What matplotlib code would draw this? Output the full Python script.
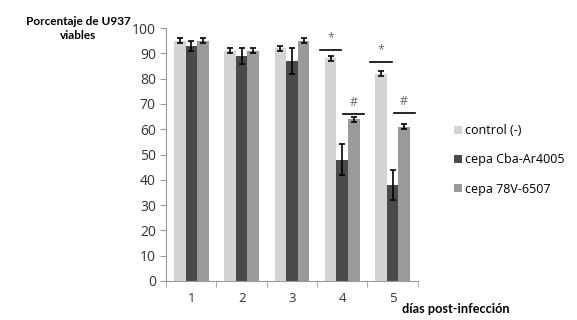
import matplotlib
matplotlib.use("Agg")
import matplotlib.pyplot as plt
import numpy as np

days = ["1", "2", "3", "4", "5"]
series_names = ["control (-)", "cepa Cba-Ar4005", "cepa 78V-6507"]
control = [95, 91, 92, 88, 82]
control_err = [1, 1, 1, 1, 1]
cba = [93, 89, 87, 48, 38]
cba_err = [2, 3, 5, 6, 6]
v78 = [95, 91, 95, 64, 61]
v78_err = [1, 1, 1, 1, 1]
colors = ["#d4d4d4", "#4a4a4a", "#9a9a9a"]

plt.rcParams['font.family'] = ['Open Sans', 'DejaVu Sans']
fig = plt.figure(figsize=(5.77, 3.20), dpi=100)
ax = fig.add_axes([0.288, 0.122, 0.436, 0.79])

x = np.arange(len(days))
w = 0.23
vals = [control, cba, v78]
errs = [control_err, cba_err, v78_err]
for i, (v, e, c, n) in enumerate(zip(vals, errs, colors, series_names)):
    ax.bar(x + (i - 1) * w, v, w, color=c, label=n, zorder=2)
    ax.errorbar(x + (i - 1) * w, v, yerr=e, fmt='none', ecolor='black',
                elinewidth=1.2, capsize=2.5, capthick=1.2, zorder=3)

# significance marks
sig = [(3, 0, 91.3, "*"), (4, 0, 86.5, "*"), (3, 2, 66, "#"), (4, 2, 66.3, "#")]
for d, s, yv, sym in sig:
    xc = x[d] + (s - 1) * w
    ax.plot([xc - 0.21, xc + 0.21], [yv, yv], color='black', lw=1.2, zorder=3)
    ax.text(xc, yv + 2.2, sym, ha='center', va='bottom', fontsize=9, color='#666666')

ax.set_xlim(-0.5, 4.5)
ax.set_ylim(0, 100)
ax.set_yticks(range(0, 101, 10))
ax.set_xticks(x)
ax.set_xticklabels(days)
ax.set_xticks(np.arange(-0.5, 5.0, 1.0), minor=True)
ax.tick_params(axis='x', which='major', length=0, pad=8, labelsize=9.5, colors='#333333')
ax.tick_params(axis='x', which='minor', length=4, color='#999999')
ax.tick_params(axis='y', length=4, color='#999999', labelsize=10, colors='#333333')
for sp in ['top', 'right']:
    ax.spines[sp].set_visible(False)
for sp in ['left', 'bottom']:
    ax.spines[sp].set_color('#999999')

fig.text(0.135, 0.91, "Porcentaje de U937\nviables", ha='center', va='center',
         fontsize=8.5, fontweight='bold', linespacing=1.3, family=['Lato', 'DejaVu Sans'])
fig.text(0.79, 0.035, "días post-infección", ha='center', va='center',
         fontsize=9.2, fontweight='bold', family=['Lato', 'DejaVu Sans'])

ax.legend(loc='upper left', bbox_to_anchor=(1.10, 0.665), frameon=False,
          fontsize=9, handlelength=0.6, handleheight=0.6, handletextpad=0.3,
          labelspacing=1.3)

fig.savefig("out.png", dpi=100)
